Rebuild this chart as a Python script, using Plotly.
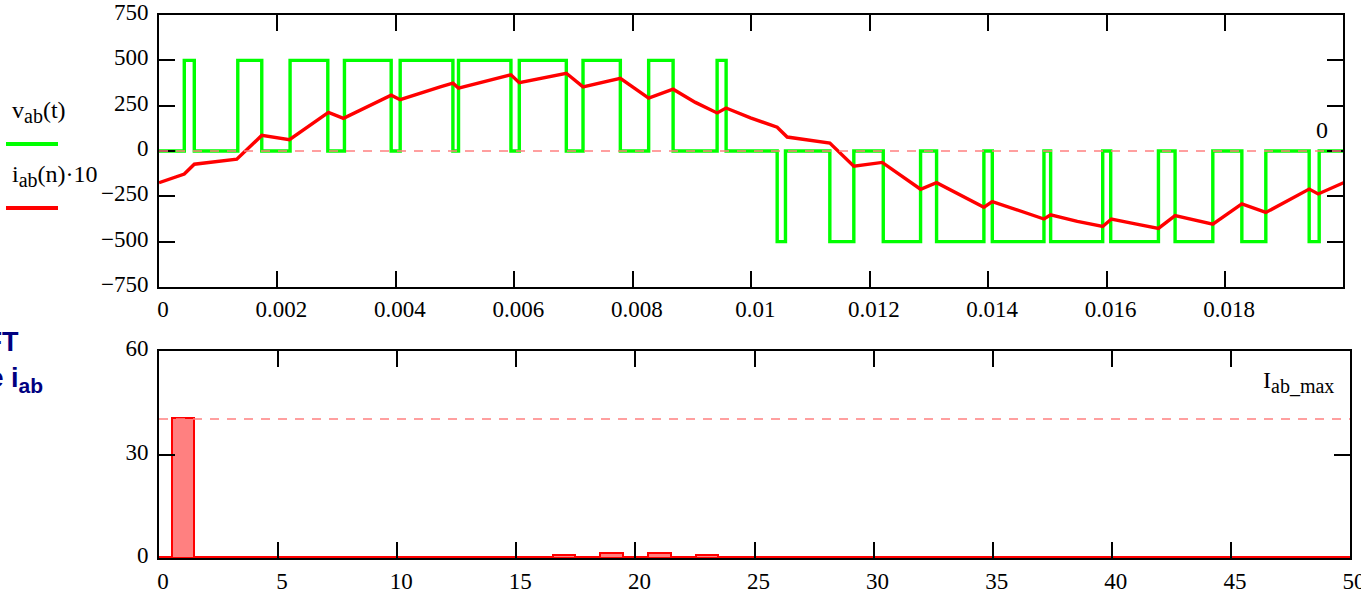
import plotly.graph_objects as go

# ---------------- data ----------------
# PWM line voltage v_ab(t): switching instants (s) and level held after each instant (V)
t_switch = [0.0, 0.000427, 0.000596, 0.00133, 0.001735, 0.002213, 0.00285, 0.003131,
            0.00392, 0.004072, 0.004962, 0.005057, 0.005942, 0.006083, 0.006877,
            0.007159, 0.007789, 0.008267, 0.00868, 0.009423, 0.009575, 0.010437,
            0.010577, 0.011326, 0.011731, 0.012228, 0.012858, 0.013128, 0.013927,
            0.014069, 0.014941, 0.015054, 0.015933, 0.016068, 0.016874, 0.017155,
            0.017792, 0.018282, 0.018687, 0.019419, 0.019588, 0.02]
v_level = [0, 500, 0, 500, 0, 500, 0, 500,
           0, 500, 0, 500, 0, 500, 0,
           500, 0, 500, 0, 500, 0, -500,
           0, -500, 0, -500, 0, -500, 0,
           -500, 0, -500, 0, -500, 0, -500,
           0, -500, 0, -500, 0, 0]

# sampled line current i_ab(n) (A)
t_n = [0.0, 0.000427, 0.000596, 0.001313, 0.001735, 0.002202, 0.002861, 0.003114,
       0.00392, 0.004072, 0.004748, 0.004962, 0.005057, 0.005942, 0.006083, 0.006877,
       0.007159, 0.007789, 0.008267, 0.00868, 0.009056, 0.009423, 0.009575, 0.009986,
       0.010437, 0.010606, 0.011326, 0.011731, 0.012211, 0.012858, 0.013128, 0.013534,
       0.013927, 0.014069, 0.014548, 0.014941, 0.015054, 0.015505, 0.015933, 0.01608,
       0.016462, 0.016874, 0.017155, 0.017792, 0.018282, 0.018687, 0.019419, 0.019571,
       0.02]
i_ab = [-17.5, -12.7, -7.3, -4.5, 8.6, 6.2, 21.3, 18.0,
        30.8, 28.3, 35.4, 37.4, 34.7, 42.0, 37.7, 42.9,
        35.4, 40.1, 29.2, 34.1, 26.8, 21.0, 23.7, 18.3,
        13.1, 7.7, 4.4, -8.4, -6.3, -21.1, -17.5, -24.2,
        -31.0, -27.9, -33.4, -37.5, -35.2, -38.8, -41.6, -37.5,
        -40.1, -42.7, -35.6, -40.3, -29.2, -33.9, -21.0, -23.7,
        -17.5]
i_scale = 10

# FFT magnitude of i_ab per harmonic
harmonic = list(range(0, 51))
fft_mag = [0.3, 40.6, 0.3, 0.3, 0.3, 0.3, 0.3, 0.3, 0.3, 0.3,
           0.3, 0.3, 0.3, 0.3, 0.3, 0.3, 0.3, 0.9, 0.3, 1.5,
           0.3, 1.5, 0.3, 0.9, 0.3, 0.3, 0.3, 0.3, 0.3, 0.3,
           0.3, 0.3, 0.3, 0.3, 0.3, 0.3, 0.3, 0.3, 0.3, 0.3,
           0.3, 0.3, 0.3, 0.3, 0.3, 0.3, 0.3, 0.3, 0.3, 0.3,
           0.3]
I_ab_max = 40.3

top_yticks = [-750, -500, -250, 0, 250, 500, 750]
top_xticks = [0, 0.002, 0.004, 0.006, 0.008, 0.01, 0.012, 0.014, 0.016, 0.018]
bot_xticks = list(range(0, 51, 5))
bot_yticks = [0, 30, 60]

# ---------------- figure ----------------
W, H = 1361, 591
def px(x):
    return x / W
def py(y):
    return 1 - y / H

SERIF = "Liberation Serif, Times New Roman, serif"
tickfont = dict(family=SERIF, size=23, color="black")

fig = go.Figure()

fig.add_trace(go.Scatter(x=t_switch, y=v_level, mode="lines", line_shape="hv",
                         line=dict(color="#00FF00", width=3.4), xaxis="x", yaxis="y",
                         showlegend=False, hoverinfo="skip"))
fig.add_trace(go.Scatter(x=t_n, y=[v * i_scale for v in i_ab], mode="lines",
                         line=dict(color="#FF0000", width=3.4), xaxis="x", yaxis="y",
                         showlegend=False, hoverinfo="skip"))
fig.add_trace(go.Bar(x=harmonic, y=fft_mag, width=0.95,
                     marker=dict(color="#FF8080", line=dict(color="#FF0000", width=2)),
                     xaxis="x2", yaxis="y2", showlegend=False, hoverinfo="skip"))

axis_common = dict(showline=True, linecolor="black", linewidth=2, mirror="ticks",
                   ticks="inside", ticklen=16, tickwidth=2, tickcolor="black",
                   showgrid=False, zeroline=False, tickfont=tickfont, automargin=False,
                   ticklabeloverflow="allow")

fig.update_layout(
    width=W, height=H, margin=dict(l=0, r=0, t=0, b=0, autoexpand=False),
    paper_bgcolor="white", plot_bgcolor="white",
    xaxis=dict(domain=[px(159), px(1343)], range=[0, 0.01999], anchor="y",
               tickvals=top_xticks, ticktext=[f"{v:g}" for v in top_xticks],
               ticklabelstandoff=0, ticklabelshift=4, **axis_common),
    yaxis=dict(domain=[py(287), py(15)], range=[-750, 750], anchor="x",
               tickvals=top_yticks, ticklabelstandoff=4, ticklabelshift=-3, **axis_common),
    xaxis2=dict(domain=[px(159), px(1350)], range=[0, 50], anchor="y2",
                tickvals=bot_xticks, ticklabelstandoff=1, ticklabelshift=4, **axis_common),
    yaxis2=dict(domain=[py(558), py(351)], range=[0, 60], anchor="x2",
                tickvals=bot_yticks, ticklabelstandoff=4, ticklabelshift=-3, **axis_common),
    bargap=0,
)

# marker lines
fig.add_shape(type="line", xref="x domain", yref="y", x0=0, x1=1, y0=0, y1=0,
              line=dict(color="#FF8080", width=1.5, dash="9px,8px"))
fig.add_shape(type="line", xref="x2 domain", yref="y2", x0=0, x1=1, y0=I_ab_max, y1=I_ab_max,
              line=dict(color="#FF8080", width=1.5, dash="9px,8px"))

# legend decorations
fig.add_shape(type="line", xref="paper", yref="paper", x0=px(6), x1=px(58), y0=py(144), y1=py(144),
              line=dict(color="#00FF00", width=4))
fig.add_shape(type="line", xref="paper", yref="paper", x0=px(6), x1=px(58), y0=py(208), y1=py(208),
              line=dict(color="#FF0000", width=4))

SUB = '<sub><span style="font-size:20px">{}</span></sub>'
ann_font = dict(family=SERIF, size=24, color="black")
fig.add_annotation(xref="paper", yref="paper", x=px(10), y=py(112), xanchor="left", yanchor="middle",
                   text="v" + SUB.format("ab") + "(t)", showarrow=False, font=ann_font)
fig.add_annotation(xref="paper", yref="paper", x=px(10), y=py(176), xanchor="left", yanchor="middle",
                   text="i" + SUB.format("ab") + "(n)\u00b710", showarrow=False, font=ann_font)
fig.add_annotation(xref="paper", yref="paper", x=px(1330), y=py(130), xanchor="right", yanchor="middle",
                   text="0", showarrow=False, font=ann_font)
fig.add_annotation(xref="paper", yref="paper", x=px(1336), y=py(382), xanchor="right", yanchor="middle",
                   text="I" + SUB.format("ab_max"), showarrow=False, font=ann_font)

blue_font = dict(family="Liberation Sans, Arial, sans-serif", size=27, color="#000080")
fig.add_annotation(xref="paper", yref="paper", x=px(21), y=py(342), xanchor="right", yanchor="middle",
                   text="<b>FFT</b>", showarrow=False, font=blue_font)
fig.add_annotation(xref="paper", yref="paper", x=px(45), y=py(380), xanchor="right", yanchor="middle",
                   text='<b>of the i<sub><span style="font-size:21px">ab</span></sub></b>',
                   showarrow=False, font=blue_font)

fig.write_html("out.html", config={"displayModeBar": False},
               post_script="document.body.style.margin='0';document.body.style.overflow='hidden';")
